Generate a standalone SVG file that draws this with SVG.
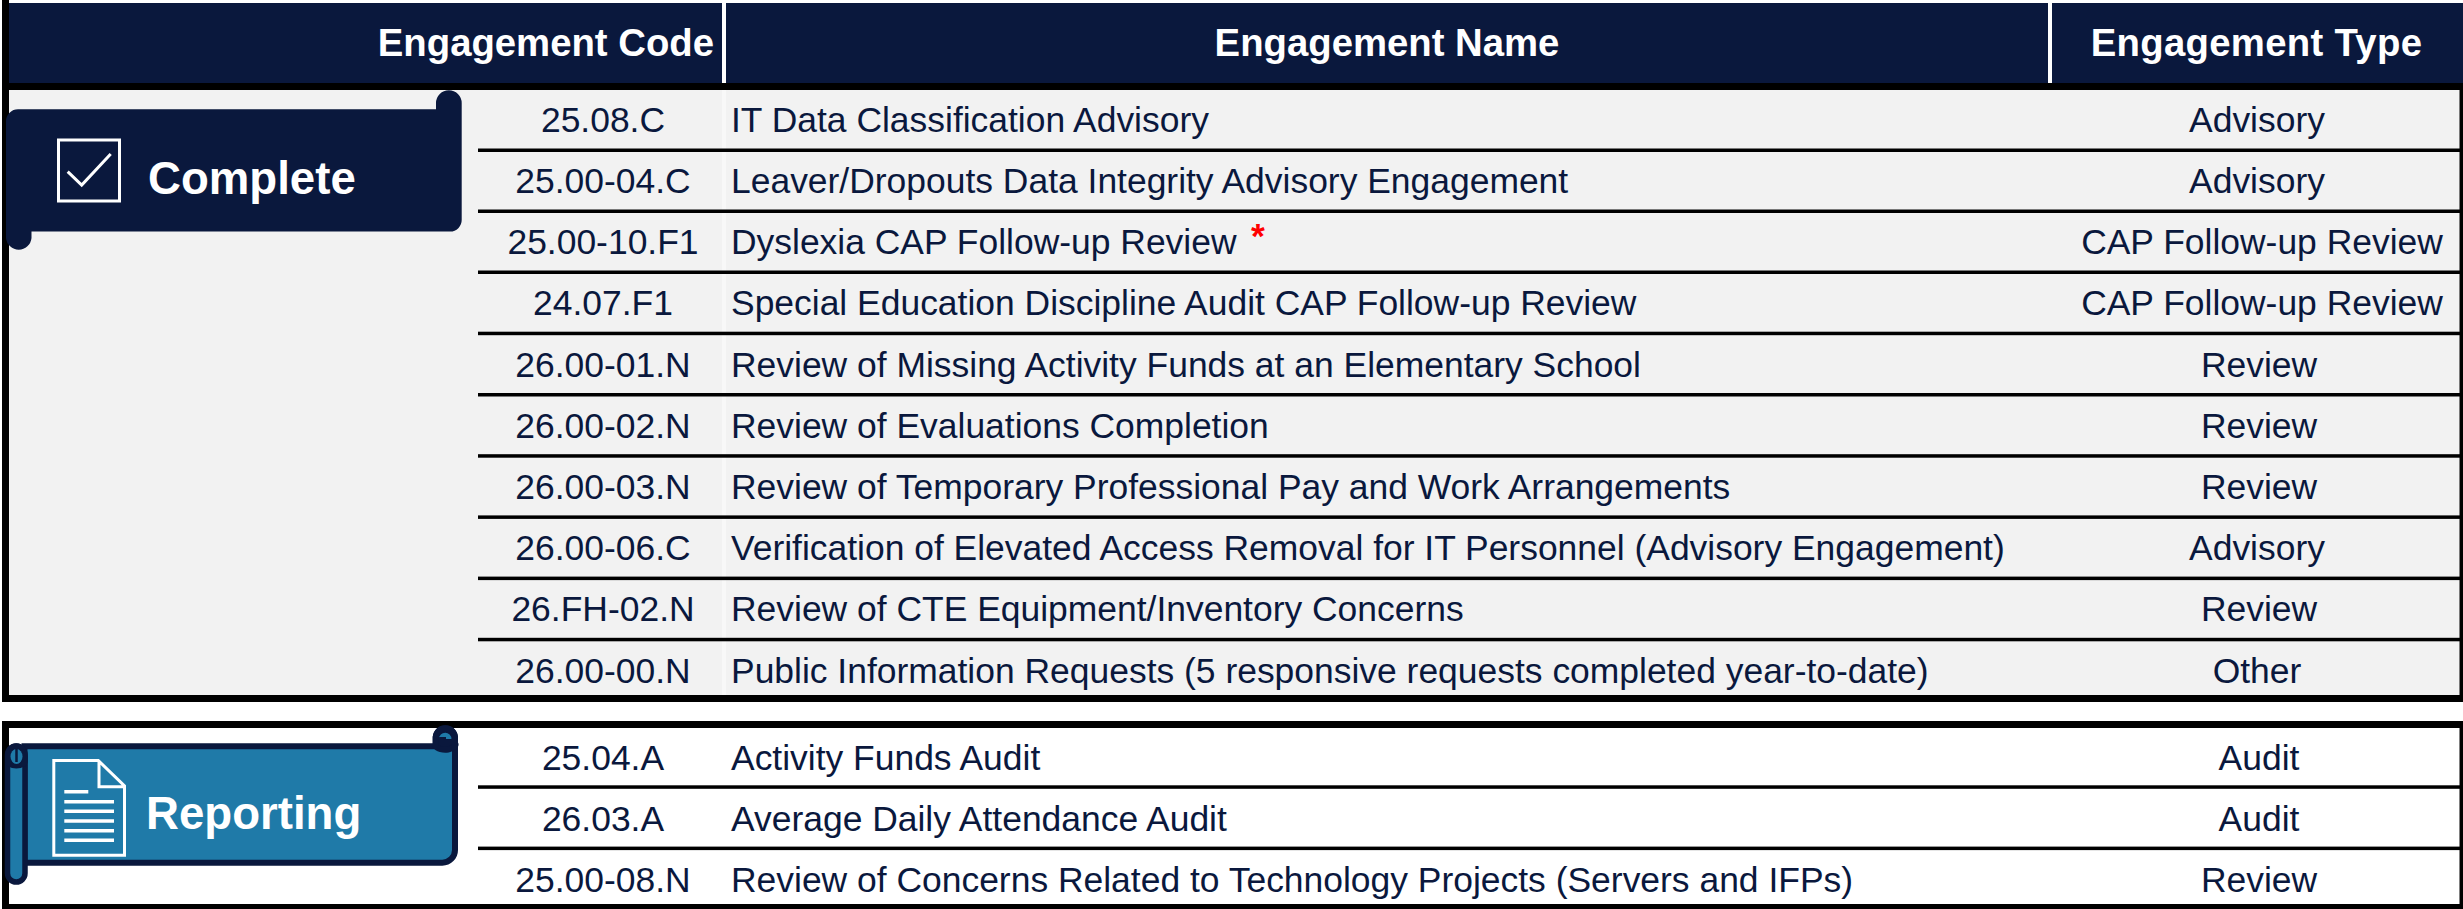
<svg xmlns="http://www.w3.org/2000/svg" width="2463" height="909" viewBox="0 0 2463 909">
<style>
text{font-family:"Liberation Sans",Arial,sans-serif;fill:#0a183d}
.h{font-weight:700;font-size:38.3px;fill:#fff}
.r{font-size:35.45px}
.m{text-anchor:middle}
.ln{fill:#000}
.b{font-weight:700;font-size:45.600px;fill:#fff}
.w{fill:none;stroke:#fff;stroke-width:3}
</style>
<rect width="2463" height="909" fill="#fff"/>
<g id="frame-complete">
<rect x="2" y="0" width="2461" height="702" fill="#000"/>
<rect x="9" y="0" width="2454" height="3" fill="#fff"/>
<rect x="9" y="3" width="2454" height="80" fill="#0a183d"/>
<rect x="722" y="3" width="4" height="80" fill="#fff"/>
<rect x="2048" y="3" width="4" height="80" fill="#fff"/>
<rect x="9" y="90" width="2450.500" height="605" fill="#f2f2f2"/>
<rect x="722" y="90" width="4" height="605" fill="#f8f8f8"/>
</g>
<g id="frame-reporting">
<rect x="2" y="721" width="2461" height="188" fill="#000"/>
<rect x="9" y="728" width="2450.500" height="176" fill="#fff"/>
</g>
<g id="connectors">
<rect class="ln" x="478" y="148.500" width="1982" height="3.500"/>
<rect class="ln" x="478" y="209.500" width="1982" height="3.500"/>
<rect class="ln" x="478" y="270.500" width="1982" height="3.500"/>
<rect class="ln" x="478" y="331.700" width="1982" height="3.500"/>
<rect class="ln" x="478" y="393" width="1982" height="3.500"/>
<rect class="ln" x="478" y="454.200" width="1982" height="3.500"/>
<rect class="ln" x="478" y="515.400" width="1982" height="3.500"/>
<rect class="ln" x="478" y="576.600" width="1982" height="3.500"/>
<rect class="ln" x="478" y="637.800" width="1982" height="3.500"/>
<rect class="ln" x="478" y="785.300" width="1982" height="3.500"/>
<rect class="ln" x="478" y="846.600" width="1982" height="3.500"/>
</g>
<g id="header">
<text class="h" x="714" y="56" text-anchor="end">Engagement Code</text>
<text class="h m" x="1387" y="56">Engagement Name</text>
<text class="h m" x="2256.500" y="56" style="letter-spacing:.3px">Engagement Type</text>
</g>
<g id="rows-complete">
<g id="row-1"><text class="r m" x="603" y="132">25.08.C</text><text class="r" x="731" y="132">IT Data Classification Advisory</text><text class="r m" x="2257" y="132">Advisory</text></g>
<g id="row-2"><text class="r m" x="603" y="193">25.00-04.C</text><text class="r" x="731" y="193">Leaver/Dropouts Data Integrity Advisory Engagement</text><text class="r m" x="2257" y="193">Advisory</text></g>
<g id="row-3"><text class="r m" x="603" y="254">25.00-10.F1</text><text class="r" x="731" y="254">Dyslexia CAP Follow-up Review</text><text x="1251" y="248" style="fill:#f00;font-size:35.5px;font-weight:700">*</text><text class="r m" x="2262" y="254">CAP Follow-up Review</text></g>
<g id="row-4"><text class="r m" x="603" y="315.200">24.07.F1</text><text class="r" x="731" y="315.200">Special Education Discipline Audit CAP Follow-up Review</text><text class="r m" x="2262" y="315.200">CAP Follow-up Review</text></g>
<g id="row-5"><text class="r m" x="603" y="376.500">26.00-01.N</text><text class="r" x="731" y="376.500">Review of Missing Activity Funds at an Elementary School</text><text class="r m" x="2259" y="376.500">Review</text></g>
<g id="row-6"><text class="r m" x="603" y="437.700">26.00-02.N</text><text class="r" x="731" y="437.700">Review of Evaluations Completion</text><text class="r m" x="2259" y="437.700">Review</text></g>
<g id="row-7"><text class="r m" x="603" y="498.900">26.00-03.N</text><text class="r" x="731" y="498.900">Review of Temporary Professional Pay and Work Arrangements</text><text class="r m" x="2259" y="498.900">Review</text></g>
<g id="row-8"><text class="r m" x="603" y="560.100">26.00-06.C</text><text class="r" x="731" y="560.100">Verification of Elevated Access Removal for IT Personnel (Advisory Engagement)</text><text class="r m" x="2257" y="560.100">Advisory</text></g>
<g id="row-9"><text class="r m" x="603" y="621.300">26.FH-02.N</text><text class="r" x="731" y="621.300">Review of CTE Equipment/Inventory Concerns</text><text class="r m" x="2259" y="621.300">Review</text></g>
<g id="row-10"><text class="r m" x="603" y="682.500">26.00-00.N</text><text class="r" x="731" y="682.500">Public Information Requests (5 responsive requests completed year-to-date)</text><text class="r m" x="2257" y="682.500">Other</text></g>
</g>
<g id="rows-reporting">
<g id="row-11"><text class="r m" x="603" y="769.500">25.04.A</text><text class="r" x="731" y="769.500">Activity Funds Audit</text><text class="r m" x="2259" y="769.500">Audit</text></g>
<g id="row-12"><text class="r m" x="603" y="831">26.03.A</text><text class="r" x="731" y="831">Average Daily Attendance Audit</text><text class="r m" x="2259" y="831">Audit</text></g>
<g id="row-13"><text class="r m" x="603" y="892">25.00-08.N</text><text class="r" x="731" y="892">Review of Concerns Related to Technology Projects (Servers and IFPs)</text><text class="r m" x="2259" y="892">Review</text></g>
</g>
<g id="banner-complete">
<path d="M436 103a12.800 12.800 0 0 1 25.700 0V220a11.500 11.500 0 0 1-11.500 11.500H31.500V238a12.800 12.800 0 0 1-25.500 0V121a12 12 0 0 1 12-11.700H436Z" fill="#0a183d"/>
<rect class="w" x="58.500" y="140" width="61" height="61"/>
<path class="w" d="M67.700 171.700 81.700 185 110.700 154"/>
<text class="b" x="148" y="194">Complete</text>
</g>
<g id="banner-reporting">
<path d="M24.500 746.300H435.700V737a9.700 9.700 0 0 1 19.300 0V850a12.700 12.700 0 0 1-12.700 12.700H24.500Z" fill="#1f7aa8" stroke="#0a183d" stroke-width="6"/>
<rect x="7.500" y="746" width="17.500" height="136" rx="8.700" fill="#1f7aa8" stroke="#0a183d" stroke-width="5.500"/>
<path d="M5 756a11.300 12.700 0 0 1 22.700 0V762a11.300 6.500 0 0 1-22.700 0Z" fill="#0a183d"/>
<ellipse cx="16.500" cy="756.500" rx="6" ry="7.500" fill="#1f7aa8"/>
<path d="M16.500 749V762" stroke="#0a183d" stroke-width="2.500"/>
<path d="M435.700 737a9.700 9.700 0 0 1 19.300 0V743a9.700 5 0 0 1-19.300 3Z" fill="#0a183d" stroke="#0a183d" stroke-width="6"/>
<path d="M439 739a6.200 6.200 0 0 1 12.400 0h-5.400v-2h-7Z" fill="#1f7aa8"/>
<path class="w" d="M53.800 760.500H98.300L124.500 786V855.200H53.800ZM99 760.500V786.700H124.500"/>
<path d="M64.300 791.700H88.300M64.300 801.700H114M64.300 811.300H114M64.300 821H114M64.300 830.700H114M64.300 840.300H114" stroke="#fff" stroke-width="3.500" fill="none"/>
<text class="b" x="146" y="828.500">Reporting</text>
</g>
</svg>
